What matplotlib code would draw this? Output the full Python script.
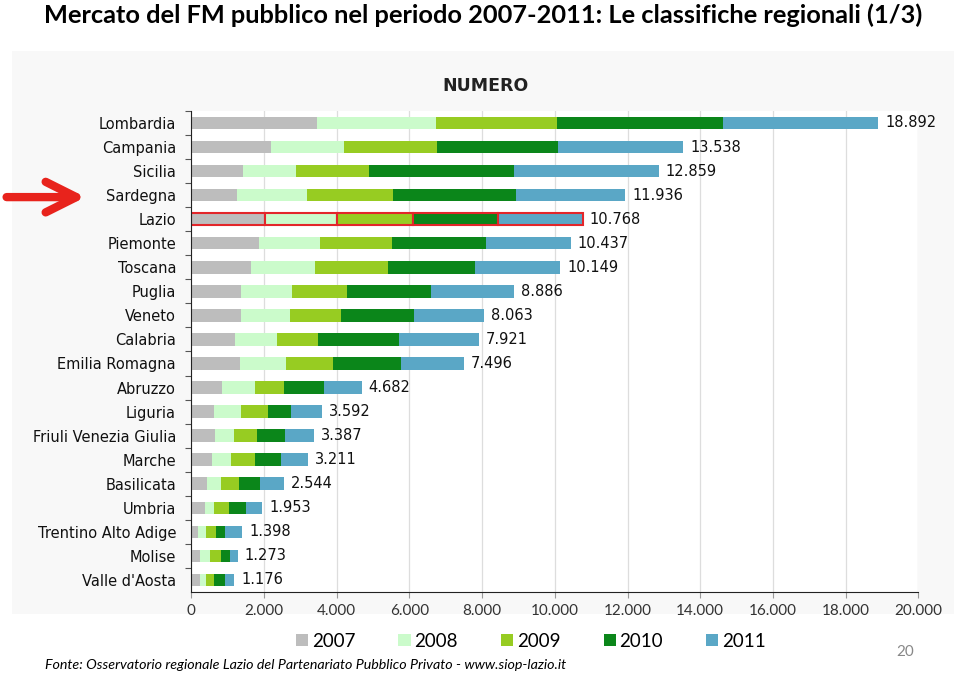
import matplotlib.pyplot as plt
from matplotlib.patches import Rectangle, FancyArrowPatch

regioni = [
    "Lombardia", "Campania", "Sicilia", "Sardegna", "Lazio", "Piemonte",
    "Toscana", "Puglia", "Veneto", "Calabria", "Emilia Romagna", "Abruzzo",
    "Liguria", "Friuli Venezia Giulia", "Marche", "Basilicata", "Umbria",
    "Trentino Alto Adige", "Molise", "Valle d'Aosta",
]
anni = ["2007", "2008", "2009", "2010", "2011"]

v2007 = [3470, 2190, 1410, 1255, 2040, 1850, 1650, 1355, 1355, 1200, 1345, 840, 630, 640, 575, 425, 370, 195, 250, 250]
v2008 = [3250, 2010, 1470, 1920, 1980, 1680, 1750, 1410, 1355, 1145, 1255, 910, 735, 535, 505, 390, 265, 220, 260, 155]
v2009 = [3330, 2550, 2000, 2380, 2090, 1980, 2000, 1515, 1395, 1150, 1310, 795, 735, 645, 665, 490, 415, 260, 295, 215]
v2010 = [4590, 3340, 3990, 3365, 2330, 2600, 2400, 2305, 2010, 2230, 1855, 1100, 655, 755, 720, 580, 455, 250, 250, 295]
totali = [18892, 13538, 12859, 11936, 10768, 10437, 10149, 8886, 8063, 7921, 7496, 4682, 3592, 3387, 3211, 2544, 1953, 1398, 1273, 1176]

# ultimo anno = totale meno i precedenti
v2011 = [t - a - b - c - d for t, a, b, c, d in zip(totali, v2007, v2008, v2009, v2010)]
serie = [v2007, v2008, v2009, v2010, v2011]

colori = ["#bdbdbd", "#cbfbcb", "#97cc22", "#0b861a", "#5aa7c6"]
evidenziata = "Lazio"
narrow = ["Lato", "DejaVu Sans"]


def fmt(n):
    return f"{n:,}".replace(",", ".")


def main():
    fig = plt.figure(figsize=(9.6, 6.75), dpi=100)
    fig.patch.set_facecolor("white")

    # sfondo del riquadro del grafico
    fig.patches.append(Rectangle((0.012, 0.09), 0.982, 0.835, transform=fig.transFigure,
                                 facecolor="#f8f8f8", edgecolor="none", zorder=-5))

    fig.text(0.503, 0.978, "Mercato del FM pubblico nel periodo 2007-2011: Le classifiche regionali (1/3)",
             ha="center", va="center", fontsize=18.3, fontweight="bold", family=narrow)
    fig.text(0.5055, 0.872, "NUMERO", ha="center", va="center", fontsize=12.5,
             fontweight="bold", color="#222222")

    ax = fig.add_axes([0.1993, 0.1230, 0.7573, 0.7126], zorder=2)
    ax.set_facecolor("white")

    y = list(range(len(regioni)))
    left = [0] * len(regioni)
    for anno, valori, col in zip(anni, serie, colori):
        bars = ax.barh(y, valori, left=left, height=0.52, color=col, label=anno, zorder=2)
        for bar, reg in zip(bars, regioni):
            if reg == evidenziata:
                bar.set_edgecolor("#e3262a")
                bar.set_linewidth(1.5)
        left = [l + v for l, v in zip(left, valori)]

    for yi, tot in zip(y, totali):
        ax.annotate(fmt(tot), (tot, yi), xytext=(5, 0), textcoords="offset points",
                    ha="left", va="center", fontsize=10.5, color="#111111")

    ax.set_ylim(len(regioni) - 0.5, -0.5)
    ax.set_xlim(0, 20000)
    ax.set_yticks([i - 0.5 for i in range(len(regioni))], minor=False)
    ax.set_yticklabels([])
    ax.set_yticks(y, minor=True)
    ax.set_yticklabels(regioni, minor=True, fontsize=10.5, color="#111111")
    ax.tick_params(axis="y", which="major", length=4, color="#555555")
    ax.tick_params(axis="y", which="minor", length=0, pad=11)

    xt = list(range(0, 20001, 2000))
    ax.set_xticks(xt)
    ax.set_xticklabels([fmt(v) for v in xt], fontsize=11, color="#333333", family=narrow)
    ax.tick_params(axis="x", length=4, color="#999999", pad=5)
    ax.grid(axis="x", color="#dddddd", linewidth=0.9, zorder=0)

    for s in ["top", "right"]:
        ax.spines[s].set_visible(False)
    ax.spines["left"].set_color("#222222")
    ax.spines["bottom"].set_color("#222222")

    fig.legend(loc="center", bbox_to_anchor=(0.553, 0.05), ncol=5, frameon=False,
               handlelength=0.65, handleheight=0.65, handletextpad=0.2,
               columnspacing=2.3, prop={"family": narrow, "size": 13.5})

    # freccia rossa verso la Sardegna
    freccia = FancyArrowPatch((0.004, 0.708), (0.092, 0.708), transform=fig.transFigure,
                              arrowstyle="->,head_length=1.1,head_width=0.55",
                              mutation_scale=20, color="#e8231c", linewidth=6,
                              capstyle="round", joinstyle="round", zorder=5)
    fig.patches.append(freccia)

    fig.text(0.047, 0.015, "Fonte: Osservatorio regionale Lazio del Partenariato Pubblico Privato - www.siop-lazio.it",
             ha="left", va="center", fontsize=10.3, style="italic", family=narrow)
    fig.text(0.943, 0.034, "20", ha="center", va="center", fontsize=11, color="#888888", family=narrow)

    fig.savefig("out.png", dpi=100)


if __name__ == "__main__":
    main()
